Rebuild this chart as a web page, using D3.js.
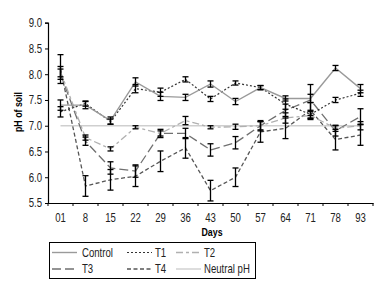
<!DOCTYPE html>
<html>
<head>
<meta charset="utf-8">
<script src="https://cdn.jsdelivr.net/npm/d3@7"></script>
<style>
  body { margin: 0; background: #fff; }
  svg { font-family: "Liberation Sans", Arial, sans-serif; }
</style>
</head>
<body>
<div class="chart"></div>
<script>
// days on the x axis
const days = ["01", "8", "15", "22", "29", "36", "43", "50", "57", "64", "71", "78", "93"];
const yTicks = [5.5, 6.0, 6.5, 7.0, 7.5, 8.0, 8.5, 9.0];

// mean pH per treatment
const control = [7.4, 7.4, 7.1, 7.85, 7.57, 7.55, 7.81, 7.47, 7.74, 7.53, 7.53, 8.12, 7.72];
const t1      = [7.27, 7.43, 7.08, 7.72, 7.65, 7.9, 7.52, 7.83, 7.74, 7.42, 7.22, 7.5, 7.63];
const t2      = [8.05, 6.77, 6.55, 6.97, 6.85, 7.1, 6.97, 6.98, 7.0, 7.15, 7.2, 6.95, 7.0];
const t3      = [8.0, 6.7, 6.18, 6.12, 6.85, 6.85, 6.53, 6.67, 7.0, 7.3, 7.5, 6.9, 7.18];
const t4      = [8.1, 5.83, 5.95, 6.02, 6.31, 6.57, 5.74, 6.0, 6.88, 6.95, 7.3, 6.73, 6.82];
const neutral = [7, 7, 7, 7, 7, 7, 7, 7, 7, 7, 7, 7, 7];

// error bars (+/-)
const controlErr = [0.1, 0.07, 0.07, 0.08, 0.08, 0.06, 0.06, 0.06, 0.04, 0.05, 0.08, 0.05, 0.08];
const t1Err      = [0.1, 0.05, 0.05, 0.08, 0.08, 0.05, 0.05, 0.04, 0.04, 0.1, 0.08, 0.05, 0.06];
const t2Err      = [0.1, 0.05, 0.04, 0.03, 0.08, 0.08, 0.03, 0.05, 0.08, 0.1, 0.08, 0.06, 0.08];
const t3Err      = [0.1, 0.08, 0.12, 0.12, 0.05, 0.1, 0.12, 0.12, 0.1, 0.12, 0.3, 0.1, 0.15];
const t4Err      = [0.28, 0.2, 0.2, 0.2, 0.2, 0.2, 0.2, 0.18, 0.2, 0.2, 0.15, 0.2, 0.2];

const series = [
  {name: "Control",    values: control, err: controlErr, color: "#9a9a9a", dash: null,      w: 1.4},
  {name: "T1",         values: t1,      err: t1Err,      color: "#333",    dash: "2,2",     w: 1.2},
  {name: "T2",         values: t2,      err: t2Err,      color: "#b0b0b0", dash: "7,3,3,3", w: 1.3},
  {name: "T3",         values: t3,      err: t3Err,      color: "#707070", dash: "9,4",     w: 1.3},
  {name: "T4",         values: t4,      err: t4Err,      color: "#555",    dash: "4,2.5",   w: 1.3},
  {name: "Neutral pH", values: neutral, err: null,       color: "#cfcfcf", dash: null,      w: 1.4}
];

const narrow = 0.8; // the original uses a condensed face

const svg = d3.select("div.chart").append("svg")
  .attr("width", 380)
  .attr("height", 287);

const x = d3.scaleBand()
  .domain(days)
  .range([48, 373]);

const y = d3.scaleLinear()
  .domain([5.5, 9.0])
  .range([203, 22.7]);

// axes
const yAxis = svg.append("g")
  .attr("transform", "translate(48,0)")
  .call(d3.axisLeft(y).tickValues(yTicks).tickFormat(d3.format(".1f")).tickSize(3).tickPadding(3));

yAxis.selectAll(".tick text")
  .attr("x", -7.5)
  .attr("transform", `scale(${narrow},1)`);

const xAxis = svg.append("g")
  .attr("transform", "translate(0,203)")
  .call(d3.axisBottom(x).tickSize(0).tickPadding(10));

xAxis.selectAll(".tick text")
  .attr("transform", `scale(${narrow},1)`);

// ticks sit between the categories
xAxis.selectAll(".bnd")
  .data(days.concat(["end"]))
  .enter()
  .append("line")
  .attr("x1", (d, i) => 48 + i * x.step())
  .attr("x2", (d, i) => 48 + i * x.step())
  .attr("y1", 0)
  .attr("y2", 3)
  .attr("stroke", "#000");

svg.selectAll(".domain").attr("stroke", "#000").attr("stroke-width", 1.2);
svg.selectAll(".tick text").style("font-size", "12px").attr("fill", "#222");

const line = d3.line()
  .x((d, i) => x(days[i]) + x.bandwidth() / 2)
  .y(d => y(d));

series.slice().reverse().forEach(function(s) {
  svg.append("path")
    .datum(s.values)
    .attr("d", line)
    .attr("fill", "none")
    .attr("stroke", s.color)
    .attr("stroke-width", s.w)
    .attr("stroke-dasharray", s.dash);
});

// error bars
series.filter(s => s.err).forEach(function(s) {
  const g = svg.append("g").attr("stroke", "#000").attr("stroke-width", 1.3);
  s.values.forEach(function(v, i) {
    const cx = x(days[i]) + x.bandwidth() / 2;
    const lo = y(v - s.err[i]);
    const hi = y(v + s.err[i]);
    g.append("line").attr("x1", cx).attr("x2", cx).attr("y1", lo).attr("y2", hi);
    g.append("line").attr("x1", cx - 3).attr("x2", cx + 3).attr("y1", lo).attr("y2", lo);
    g.append("line").attr("x1", cx - 3).attr("x2", cx + 3).attr("y1", hi).attr("y2", hi);
  });
});

// axis titles
svg.append("text")
  .attr("transform", `translate(212,236) scale(${narrow},1)`)
  .attr("text-anchor", "middle")
  .style("font-size", "11px")
  .style("font-weight", "bold")
  .text("Days");

svg.append("text")
  .attr("transform", `translate(22,112) rotate(-90) scale(${narrow},1)`)
  .attr("text-anchor", "middle")
  .style("font-size", "11px")
  .style("font-weight", "bold")
  .text("pH of soil");

// legend
svg.append("rect")
  .attr("x", 49.5)
  .attr("y", 242.5)
  .attr("width", 206)
  .attr("height", 36)
  .attr("fill", "none")
  .attr("stroke", "#000")
  .attr("stroke-width", 1);

const legX = [52, 127, 176];
const legTxt = [82, 155, 204];
const legY = [252.5, 269];

series.forEach(function(s, i) {
  const col = i % 3, row = Math.floor(i / 3);
  svg.append("line")
    .attr("x1", legX[col])
    .attr("x2", legX[col] + 25)
    .attr("y1", legY[row])
    .attr("y2", legY[row])
    .attr("stroke", s.color)
    .attr("stroke-width", s.w)
    .attr("stroke-dasharray", s.dash);
  svg.append("text")
    .attr("transform", `translate(${legTxt[col]},${legY[row] + 4}) scale(${narrow},1)`)
    .style("font-size", "12px")
    .attr("fill", "#222")
    .text(s.name);
});
</script>
</body>
</html>
